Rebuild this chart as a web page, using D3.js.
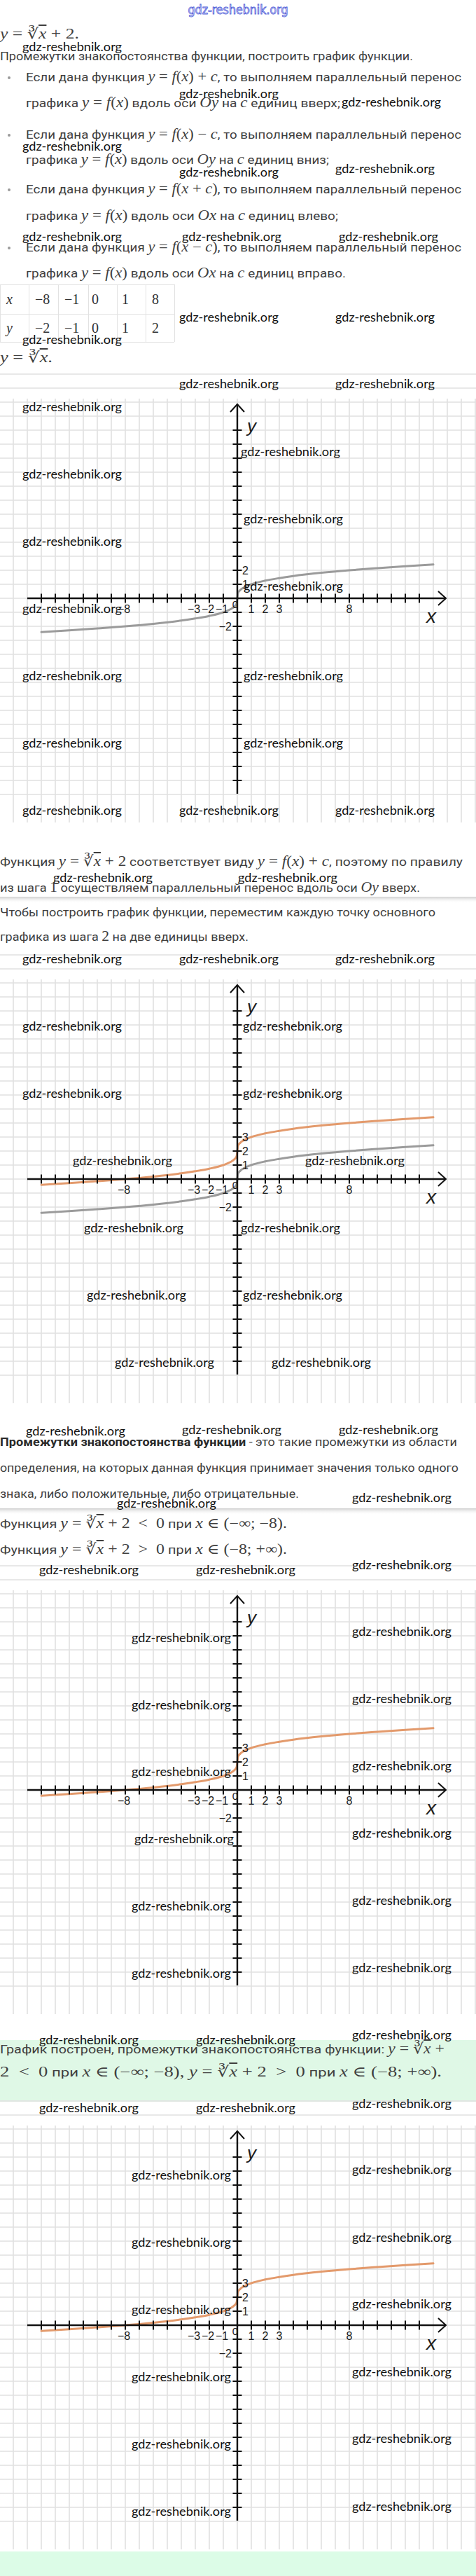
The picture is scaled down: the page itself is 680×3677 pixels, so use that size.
<!DOCTYPE html>
<html>
<head>
<meta charset="utf-8">
<script src="https://cdn.jsdelivr.net/npm/d3@7"></script>
<style>
  body { margin: 0; background: #fff; }
  svg { display: block; }
</style>
</head>
<body>
<script>
const W = 680, H = 3677;

// points (x, y = cube root, y shifted up by 2)
const curveX = [-14, -12, -10, -8, -6, -4, -3, -2, -1, -0.5, -0.2, -0.05, 0, 0.05, 0.2, 0.5, 1, 2, 3, 4, 6, 8, 10, 12, 14];
const baseY  = [-2.41, -2.29, -2.15, -2, -1.82, -1.59, -1.44, -1.26, -1, -0.79, -0.58, -0.37, 0, 0.37, 0.58, 0.79, 1, 1.26, 1.44, 1.59, 1.82, 2, 2.15, 2.29, 2.41];
const shiftY = [-0.41, -0.29, -0.15, 0, 0.18, 0.41, 0.56, 0.74, 1, 1.21, 1.42, 1.63, 2, 2.37, 2.58, 2.79, 3, 3.26, 3.44, 3.59, 3.82, 4, 4.15, 4.29, 4.41];

// tick labels
const xLabels = [-8, -3, -2, -1, 1, 2, 3, 8];
const yLabels1 = [2, 1, -2];
const yLabels2 = [3, 2, 1, -2];

// value table
const tableX = ["x", "−8", "−1", "0", "1", "8"];
const tableY = ["y", "−2", "−1", "0", "1", "2"];

// the four graphs: origin row on the page, curves shown, y labels
const charts = [
  { o: 854,  curves: ["base"],          yl: yLabels1 },
  { o: 1683, curves: ["base", "shift"], yl: yLabels2 },
  { o: 2555, curves: ["shift"],         yl: yLabels2 },
  { o: 3319, curves: ["shift"],         yl: yLabels2 }
];

const colors = { base: "#9b9b9b", shift: "#e39a6c" };

const svg = d3.select("body").append("svg")
  .attr("width", W).attr("height", H)
  .attr("viewBox", `0 0 ${W} ${H}`);

const defs = svg.append("defs");
const sh = defs.append("linearGradient").attr("id", "shadow")
  .attr("x1", 0).attr("y1", 0).attr("x2", 0).attr("y2", 1);
sh.append("stop").attr("offset", 0).attr("stop-color", "#cfcfcf");
sh.append("stop").attr("offset", 1).attr("stop-color", "#fff").attr("stop-opacity", 0);

// green answer boxes
svg.append("rect").attr("x", 0).attr("y", 2912).attr("width", W).attr("height", 88).attr("fill", "#dff8e6");
svg.append("rect").attr("x", 0).attr("y", 3642).attr("width", W).attr("height", 35).attr("fill", "#dcfce7");

// card dividers
[1280, 2153].forEach(y => {
  svg.append("rect").attr("x", 0).attr("y", y).attr("width", W).attr("height", 9).attr("fill", "url(#shadow)");
});

// ---------- text ----------
const bodyFont = "Roboto, 'Noto Sans', sans-serif";
const mathFont = "'Liberation Serif', 'DejaVu Serif', serif";

function addMath(t, s) {
  let afterRoot = false;
  for (const c of s) {
    if (c === "∛") {
      t.append("tspan").attr("font-family", "'DejaVu Serif', serif").attr("font-style", "normal").text(c);
      afterRoot = true;
      continue;
    }
    const ts = t.append("tspan").attr("font-family", mathFont)
      .attr("font-style", /[a-zA-Z]/.test(c) ? "italic" : "normal")
      .text(c);
    if (afterRoot && c !== " ") { ts.style("text-decoration", "overline"); afterRoot = false; }
  }
}

function line(x, y, xEnd, parts, size) {
  const t = svg.append("text").attr("x", x).attr("y", y)
    .attr("font-family", bodyFont).attr("font-size", size || 17)
    .attr("fill", "#3f3f3f").style("white-space", "pre");
  parts.forEach(p => {
    if (typeof p === "string") t.append("tspan").text(p);
    else if (p.b) t.append("tspan").attr("font-weight", "bold").attr("fill", "#2a2a2a").text(p.b);
    else if (p.m) { const g = t.append("tspan").attr("font-size", (size || 17) * 1.2); addMath(g, p.m); }
  });
  if (xEnd) t.attr("textLength", xEnd - x).attr("lengthAdjust", "spacingAndGlyphs");
  return t;
}

function bullet(y) {
  svg.append("circle").attr("cx", 13).attr("cy", y - 5).attr("r", 2).attr("fill", "#9a9a9a");
}

line(0, 55, 113, [{ m: "y = ∛x + 2." }]);
line(0, 86, 590, ["Промежутки знакопостоянства функции, построить график функции."]);

bullet(116);
line(37, 116, 659, ["Если дана функция ", { m: "y = f(x) + c" }, ", то выполняем параллельный перенос"]);
line(37, 153, 486, ["графика ", { m: "y = f(x)" }, " вдоль оси ", { m: "Oy" }, " на ", { m: "c" }, " единиц вверх;"]);
bullet(198);
line(37, 198, 659, ["Если дана функция ", { m: "y = f(x) − c" }, ", то выполняем параллельный перенос"]);
line(37, 234, 470, ["графика ", { m: "y = f(x)" }, " вдоль оси ", { m: "Oy" }, " на ", { m: "c" }, " единиц вниз;"]);
bullet(276);
line(37, 276, 659, ["Если дана функция ", { m: "y = f(x + c)" }, ", то выполняем параллельный перенос"]);
line(37, 314, 483, ["графика ", { m: "y = f(x)" }, " вдоль оси ", { m: "Ox" }, " на ", { m: "c" }, " единиц влево;"]);
bullet(359);
line(37, 359, 659, ["Если дана функция ", { m: "y = f(x − c)" }, ", то выполняем параллельный перенос"]);
line(37, 396, 494, ["графика ", { m: "y = f(x)" }, " вдоль оси ", { m: "Ox" }, " на ", { m: "c" }, " единиц вправо."]);

// table
const colEdges = [0, 41, 83, 126, 167, 208, 249];
const rowEdges = [406, 448, 488];
const tab = svg.append("g").attr("stroke", "#e2e2e2").attr("stroke-width", 1);
colEdges.forEach(x => tab.append("line").attr("x1", x + 0.5).attr("x2", x + 0.5).attr("y1", rowEdges[0]).attr("y2", rowEdges[2]));
rowEdges.forEach(y => tab.append("line").attr("x1", 0).attr("x2", 249).attr("y1", y + 0.5).attr("y2", y + 0.5));
const cellX = [9, 50, 92, 131, 174, 217];
[[tableX, 434], [tableY, 475]].forEach(([row, by]) => {
  row.forEach((v, i) => {
    svg.append("text").attr("x", cellX[i]).attr("y", by)
      .attr("font-family", mathFont).attr("font-size", 20).attr("fill", "#333")
      .attr("font-style", i === 0 ? "italic" : "normal").text(v);
  });
});

line(0, 517, 75, [{ m: "y = ∛x." }]);

line(0, 1236, 661, ["Функция ", { m: "y = ∛x + 2" }, " соответствует виду ", { m: "y = f(x) + c" }, ", поэтому по правилу"]);
line(0, 1273, 600, ["из шага ", { m: "1" }, " осуществляем параллельный перенос вдоль оси ", { m: "Oy" }, " вверх."]);
line(0, 1308, 622, ["Чтобы построить график функции, переместим каждую точку основного"]);
line(0, 1343, 355, ["графика из шага ", { m: "2" }, " на две единицы вверх."]);

line(0, 2064, 653, [{ b: "Промежутки знакопостоянства функции" }, " - это такие промежутки из области"]);
line(0, 2101, 655, ["определения, на которых данная функция принимает значения только одного"]);
line(0, 2138, 427, ["знака, либо положительные, либо отрицательные."]);
line(0, 2181, 410, ["Функция ", { m: "y = ∛x + 2  <  0" }, " при ", { m: "x ∈ (−∞; −8)." }]);
line(0, 2218, 410, ["Функция ", { m: "y = ∛x + 2  >  0" }, " при ", { m: "x ∈ (−8; +∞)." }]);

line(0, 2931, 635, ["График построен, промежутки знакопостоянства функции: ", { m: "y = ∛x +" }]);
line(0, 2964, 631, [{ m: "2  <  0" }, " при ", { m: "x ∈ (−∞; −8), y = ∛x + 2  >  0" }, " при ", { m: "x ∈ (−8; +∞)." }]);

// ---------- graphs ----------
const x = d3.scaleLinear().domain([-15, 15]).range([39, 639]);
const labelFont = "'Liberation Sans', Arial, sans-serif";

charts.forEach(ch => {
  const o = ch.o;
  const y = d3.scaleLinear().domain([-16, 14.25]).range([o + 320, o - 285]);
  const g = svg.append("g");

  // squared paper
  const grid = g.append("g").attr("stroke", "#e0e0e0").attr("stroke-width", 1.6);
  d3.range(-17, 18).forEach(k => {
    grid.append("line").attr("x1", x(k)).attr("x2", x(k)).attr("y1", y(14.25)).attr("y2", y(-16));
  });
  d3.range(-14, 17).forEach(k => {
    grid.append("line").attr("x1", 0).attr("x2", W).attr("y1", y(k)).attr("y2", y(k));
  });

  // curves
  const path = d3.line().x(d => x(d[0])).y(d => y(d[1])).curve(d3.curveMonotoneX);
  ch.curves.forEach(c => {
    const vals = c === "base" ? baseY : shiftY;
    g.append("path").datum(curveX.map((v, i) => [v, vals[i]]))
      .attr("d", path).attr("fill", "none")
      .attr("stroke", colors[c]).attr("stroke-width", 3).attr("stroke-linecap", "round");
  });

  // axes
  const ax = g.append("g").attr("stroke", "#111").attr("fill", "none");
  ax.append("line").attr("x1", x(-15)).attr("x2", x(14.9)).attr("y1", y(0)).attr("y2", y(0)).attr("stroke-width", 2.4);
  ax.append("line").attr("x1", x(0)).attr("x2", x(0)).attr("y1", y(13.85)).attr("y2", y(-13.95)).attr("stroke-width", 2.4);
  ax.append("path").attr("stroke-width", 2)
    .attr("d", `M${x(0) - 10},${y(13.85) + 11}L${x(0)},${y(13.85)}L${x(0) + 10},${y(13.85) + 11}`);
  ax.append("path").attr("stroke-width", 2)
    .attr("d", `M${x(14.9) - 11},${y(0) - 10}L${x(14.9)},${y(0)}L${x(14.9) - 11},${y(0) + 10}`);
  d3.range(-14, 14).filter(k => k !== 0).forEach(k => {
    ax.append("line").attr("stroke-width", 2).attr("x1", x(k)).attr("x2", x(k)).attr("y1", y(0) - 6.5).attr("y2", y(0) + 6.5);
  });
  d3.range(-13, 13).filter(k => k !== 0).forEach(k => {
    ax.append("line").attr("stroke-width", 2).attr("x1", x(0) - 6.5).attr("x2", x(0) + 6.5).attr("y1", y(k)).attr("y2", y(k));
  });

  // tick labels
  const lab = g.append("g").attr("font-family", labelFont).attr("font-size", 16).attr("fill", "#1c1c1c");
  xLabels.forEach(v => {
    lab.append("text").attr("x", x(v) - (v < 0 ? 2 : 0)).attr("y", y(0) + 15)
      .attr("text-anchor", "middle").attr("dominant-baseline", "central").text(v < 0 ? "−" + (-v) : v);
  });
  lab.append("text").attr("x", x(0) - 3).attr("y", y(0) + 8).attr("font-size", 15)
    .attr("text-anchor", "middle").attr("dominant-baseline", "central").text("0");
  ch.yl.forEach(v => {
    lab.append("text").attr("x", v > 0 ? x(0) + 7 : x(0) - 8).attr("y", y(v))
      .attr("text-anchor", v > 0 ? "start" : "end").attr("dominant-baseline", "central")
      .text(v < 0 ? "−" + (-v) : v);
  });
  lab.append("text").attr("x", x(0) + 14).attr("y", y(12.3)).attr("font-size", 26)
    .attr("font-style", "italic").attr("dominant-baseline", "central").text("y");
  lab.append("text").attr("x", 616).attr("y", y(-1.25)).attr("font-size", 28)
    .attr("font-style", "italic").attr("text-anchor", "middle").attr("dominant-baseline", "central").text("x");
});

// ---------- watermarks ----------
const marks = [
  [32,66],[256,133],[488,145],[32,208],[256,245],[479,240],[32,337],[260,337],[484,337],
  [256,452],[479,452],[32,484],[256,547],[479,547],
  [32,580],[344,644],[32,676],[348,740],[32,772],[348,836],[32,868],[32,964],[348,964],
  [32,1060],[348,1060],[32,1156],[256,1156],[479,1156],
  [76,1252],[340,1252],[32,1368],[256,1368],[479,1368],
  [32,1464],[347,1464],[32,1560],[347,1560],[104,1656],[436,1656],[120,1752],[344,1752],
  [124,1848],[347,1848],[164,1944],[388,1944],[37,2042],[260,2040],[484,2040],
  [503,2137],[167,2145],[56,2240],[280,2240],[503,2233],
  [188,2337],[503,2328],[188,2433],[503,2424],[188,2528],[503,2520],[192,2624],[503,2616],
  [188,2720],[503,2712],[188,2816],[503,2808],[56,2911],[280,2911],[503,2904],
  [56,3008],[280,3008],[503,3002],
  [188,3104],[503,3096],[188,3200],[503,3193],[188,3296],[503,3288],[188,3392],[503,3385],
  [188,3488],[503,3480],[188,3584],[503,3577]
];
svg.append("g").selectAll("text").data(marks).join("text")
  .attr("x", d => d[0]).attr("y", d => d[1])
  .attr("dominant-baseline", "central")
  .attr("font-family", "Lato, 'Open Sans', sans-serif").attr("font-size", 18)
  .attr("fill", "#111")
  .attr("textLength", 142).attr("lengthAdjust", "spacingAndGlyphs")
  .text("gdz-reshebnik.org");

// site logo at the very top
svg.append("text").attr("x", 340).attr("y", 14)
  .attr("text-anchor", "middle").attr("dominant-baseline", "central")
  .attr("font-family", "'DejaVu Sans Condensed', 'DejaVu Sans', sans-serif").attr("font-size", 17)
  .attr("fill", "#e4e8ff").attr("stroke", "#5462d8").attr("stroke-width", 0.8)
  .attr("textLength", 143).attr("lengthAdjust", "spacingAndGlyphs")
  .text("gdz-reshebnik.org");
</script>
</body>
</html>
